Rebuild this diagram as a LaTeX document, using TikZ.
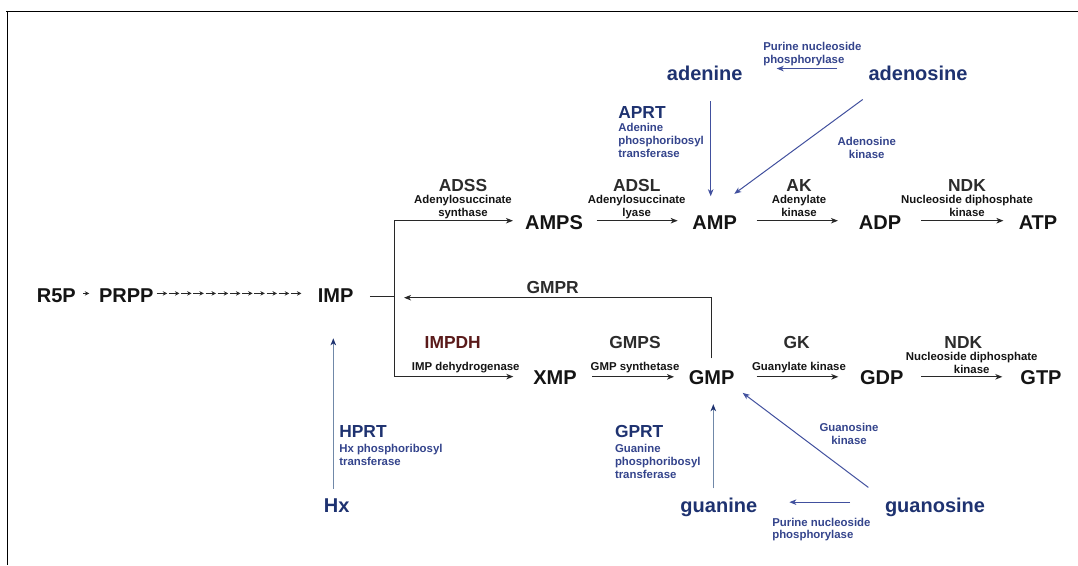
\documentclass[tikz,border=0pt]{standalone}
\usepackage{fontspec}
\setmainfont{Liberation Sans}
\usetikzlibrary{arrows.meta,calc}
\definecolor{navy}{RGB}{30,50,112}
\definecolor{navyl}{RGB}{52,68,140}
\definecolor{arrblue}{RGB}{65,80,158}
\definecolor{graybl}{RGB}{112,136,168}
\definecolor{darkred}{RGB}{90,26,26}
\definecolor{ink}{RGB}{20,20,20}
\definecolor{lineg}{RGB}{40,40,40}
\tikzset{
  every node/.style={inner sep=0pt,outer sep=0pt},
  big/.style={font=\fontsize{20}{22}\selectfont\bfseries,text=ink,anchor=base},
  bigb/.style={big,text=navy},
  enz/.style={font=\fontsize{17.4}{20}\selectfont\bfseries,text=ink!90,anchor=base},
  enzb/.style={enz,text=navy},
  sm/.style={font=\fontsize{11.4}{12.8}\selectfont\bfseries,text=ink,anchor=base},
  smb/.style={sm,text=navyl},
  rx/.style={draw=lineg,line width=1.1pt,-{Stealth[length=7pt,width=5.5pt,inset=2pt]}},
  rxb/.style={draw=arrblue,line width=1pt,-{Stealth[length=7pt,width=5.5pt,inset=2pt]}},
  rxg/.style={draw=graybl,line width=1.6pt,-{Stealth[length=7pt,width=5.5pt,inset=2pt,color=navy]}},
  tiny/.style={draw=lineg,line width=0.9pt,-{Stealth[length=4.5pt,width=4.5pt,inset=1.5pt]}},
}
\begin{document}
\begin{tikzpicture}[x=1pt,y=-1pt]
\useasboundingbox (0,0) rectangle (1078,565);
% frame (top and left)
\draw[line width=1.3pt,black] (6,11.5) -- (1078,11.5);
\draw[line width=1.3pt,black] (7.5,11) -- (7.5,565);

% main metabolites
\node[big] (r5p)  at (56.3,302) {R5P};
\node[big] (prpp) at (126.3,302) {PRPP};
\node[big] (imp)  at (335.7,302) {IMP};
\node[big] (amps) at (554,229) {AMPS};
\node[big] (amp)  at (714.7,229) {AMP};
\node[big] (adp)  at (880,229) {ADP};
\node[big] (atp)  at (1038,229) {ATP};
\node[big] (xmp)  at (555,384) {XMP};
\node[big] (gmp)  at (711.7,384) {GMP};
\node[big] (gdp)  at (881.7,384) {GDP};
\node[big] (gtp)  at (1041,384) {GTP};
\node[bigb] (adenine)   at (704.7,80) {adenine};
\node[bigb] (adenosine) at (918,80) {adenosine};
\node[bigb] (hx)        at (336.7,512.5) {Hx};
\node[bigb] (guanine)   at (718.8,512) {guanine};
\node[bigb] (guanosine) at (935,512) {guanosine};

% enzymes (abbreviations)
\node[enz] (adss) at (463,191) {ADSS};
\node[enz] (adsl) at (636.7,191) {ADSL};
\node[enz] (ak)   at (799,191) {AK};
\node[enz] (ndka) at (967,191) {NDK};
\node[enz] (gmpr) at (552.7,293) {GMPR};
\node[enz,text=darkred] (impdh) at (452.7,348) {IMPDH};
\node[enz] (gmps) at (635,348) {GMPS};
\node[enz] (gk)   at (796.7,348) {GK};
\node[enz] (ndkg) at (963.3,348) {NDK};
\node[enzb,anchor=base west] (aprt) at (618.3,118) {APRT};
\node[enzb,anchor=base west] (hprt) at (339.3,437) {HPRT};
\node[enzb,anchor=base west] (gprt) at (615,437) {GPRT};

% enzyme names
\node[sm] (n1a) at (463,203.5) {Adenylosuccinate};
\node[sm] (n1b) at (463,216) {synthase};
\node[sm] (n2a) at (636.7,203.5) {Adenylosuccinate};
\node[sm] (n2b) at (636.7,216) {lyase};
\node[sm] (n3a) at (799,203.5) {Adenylate};
\node[sm] (n3b) at (799,216) {kinase};
\node[sm] (n4a) at (967,203.5) {Nucleoside diphosphate};
\node[sm] (n4b) at (967,216) {kinase};
\node[sm] (n5) at (465.7,370.7) {IMP dehydrogenase};
\node[sm] (n6) at (635,370.7) {GMP synthetase};
\node[sm] (n7) at (799,370) {Guanylate kinase};
\node[sm] (n8a) at (971.7,360) {Nucleoside diphosphate};
\node[sm] (n8b) at (971.7,373) {kinase};
\node[smb,anchor=base west] (p1a) at (763.3,50.7) {Purine nucleoside};
\node[smb,anchor=base west] (p1b) at (763.3,63.5) {phosphorylase};
\node[smb,anchor=base west] (a1) at (618.3,131.7) {Adenine};
\node[smb,anchor=base west] (a2) at (618.3,144.5) {phosphoribosyl};
\node[smb,anchor=base west] (a3) at (618.3,157.3) {transferase};
\node[smb] (k1a) at (866.7,145.7) {Adenosine};
\node[smb] (k1b) at (866.7,158.5) {kinase};
\node[smb] (k2a) at (849,431.7) {Guanosine};
\node[smb] (k2b) at (849,444.5) {kinase};
\node[smb,anchor=base west] (p2a) at (772.3,526) {Purine nucleoside};
\node[smb,anchor=base west] (p2b) at (772.3,538.8) {phosphorylase};
\node[smb,anchor=base west] (h1) at (339.3,452.7) {Hx phosphoribosyl};
\node[smb,anchor=base west] (h2) at (339.3,465.5) {transferase};
\node[smb,anchor=base west] (g1) at (615,452.7) {Guanine};
\node[smb,anchor=base west] (g2) at (615,465.5) {phosphoribosyl};
\node[smb,anchor=base west] (g3) at (615,478.3) {transferase};

% row levels and branch coordinates
\coordinate (rowA) at (0,220.7);
\coordinate (rowG) at (0,376.8);
\coordinate (rowT) at (0,293.4);
\coordinate (brmid) at (394.3,296.7);
\coordinate (brtop) at (394.3,220.7);
\coordinate (brbot) at (394.3,376.6);
\coordinate (aprtx) at (710.7,0);
\coordinate (gprtx) at (713.3,0);
\coordinate (hprtx) at (333.3,0);

% R5P -> PRPP -> ... -> IMP
\draw[tiny,shorten <=7.5pt,shorten >=9.8pt] (r5p.east |- rowT) -- (prpp.west |- rowT);
\foreach \i in {0,...,11}{
  \draw[tiny] ($(prpp.east |- rowT)+(3.2+12.2*\i,0)$) -- ++(10.5,0);
}
% IMP to branch
\draw[draw=lineg,line width=1.1pt,shorten <=16.5pt] (imp.east |- brmid) -- (brmid);
\draw[draw=lineg,line width=1.1pt] (brtop) -- (brbot);
\draw[rx,shorten >=12.1pt] (brtop) -- (amps.west |- rowA);
\draw[rx,shorten >=20pt] (brbot) -- (xmp.west |- brbot);
% top row
\draw[rx,shorten <=13.8pt,shorten >=14.8pt] (amps.east |- rowA) -- (amp.west |- rowA);
\draw[rx,shorten <=19.8pt,shorten >=20.9pt] (amp.east |- rowA) -- (adp.west |- rowA);
\draw[rx,shorten <=19.9pt,shorten >=15.3pt] (adp.east |- rowA) -- (atp.west |- rowA);
% bottom row
\draw[rx,shorten <=15.6pt,shorten >=14.9pt] (xmp.east |- rowG) -- (gmp.west |- rowG);
\draw[rx,shorten <=22.2pt,shorten >=21.7pt] (gmp.east |- rowG) -- (gdp.west |- rowG);
\draw[rx,shorten <=17.7pt,shorten >=18.1pt] (gdp.east |- rowG) -- (gtp.west |- rowG);
% GMPR
\draw[rx,shorten <=11.7pt] (gmp.north) |- ($(brmid)+(9.7,1)$);
% adenine/adenosine
\draw[rxb,shorten <=31.5pt,shorten >=34.2pt] ($(adenosine.west)+(0,-4.3)$) -- ($(adenine.east)+(0,-4.3)$);
\draw[rxb,shorten <=21pt,shorten >=19pt] (adenine.south -| aprtx) -- (amp.north -| aprtx);
\draw[rxb] ($(adenosine.south)+(-55.3,19.3)$) -- ($(amp.north)+(19.6,-21.4)$);
% guanine/guanosine
\draw[rxb,shorten <=35pt,shorten >=32.2pt] ($(guanosine.west)+(0,-4.7)$) -- ($(guanine.east)+(0,-4.7)$);
\draw[rxb] ($(guanosine.north)+(-66.7,-10.1)$) -- ($(gmp.south)+(31,8.7)$);
\draw[rxg,shorten <=9.1pt,shorten >=20pt] (guanine.north -| gprtx) -- (gmp.south -| gprtx);
% Hx -> IMP
\draw[rxg,shorten <=9.9pt,shorten >=36.3pt] (hx.north -| hprtx) -- (imp.south -| hprtx);
\end{tikzpicture}
\end{document}
